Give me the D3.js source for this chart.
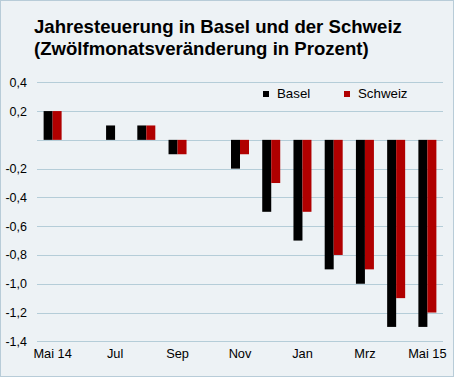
<!DOCTYPE html>
<html><head><meta charset="utf-8">
<script src="https://cdn.jsdelivr.net/npm/d3@7"></script>
<style>body{margin:0;background:#fff}svg{display:block}</style>
</head><body>
<svg id="c" width="454" height="378"></svg>
<script>
const months = ["Mai 14","Jun","Jul","Aug","Sep","Okt","Nov","Dez","Jan","Feb","Mrz","Apr","Mai 15"];
const basel   = [0.2, 0, 0.1, 0.1, -0.1, 0, -0.2, -0.5, -0.7, -0.9, -1.0, -1.3, -1.3];
const schweiz = [0.2, 0, 0, 0.1, -0.1, 0, -0.1, -0.3, -0.5, -0.8, -0.9, -1.1, -1.2];
const xTickLabels = ["Mai 14","Jul","Sep","Nov","Jan","Mrz","Mai 15"];
const yTicks = [0.4, 0.2, 0, -0.2, -0.4, -0.6, -0.8, -1.0, -1.2, -1.4];
const seriesNames = ["Basel","Schweiz"];
const colors = ["#000000","#b00000"];
const titleLines = ["Jahresteuerung in Basel und der Schweiz","(Zwölfmonatsveränderung in Prozent)"];

const svg = d3.select("#c");
svg.append("rect").attr("x",0.5).attr("y",0.5).attr("width",453).attr("height",376)
  .attr("fill","#edf2f5").attr("stroke","#b8ccd8");

const font = "Liberation Sans, Arial, sans-serif";
svg.selectAll("text.title").data(titleLines).join("text")
  .attr("x",34).attr("y",(d,i)=>33+i*22)
  .attr("font-family",font).attr("font-weight","bold").attr("font-size",18.6)
  .attr("fill","#000").text(d=>d);

const x = d3.scaleBand().domain(months).range([37,443]);
const y = d3.scaleLinear().domain([-1.4,0.4]).range([341.3,82.3]);

const grid = svg.append("g");
grid.selectAll("line").data(yTicks).join("line")
  .attr("x1",37).attr("x2",443).attr("y1",d=>Math.round(y(d))+0.5).attr("y2",d=>Math.round(y(d))+0.5)
  .attr("stroke","#b5cdd8").attr("stroke-width",1);

const yAxis = d3.axisLeft(y).tickValues(yTicks).tickSize(0)
  .tickFormat(d => d===0 ? "" : d3.format(".1f")(d).replace(".",",").replace("−","-"));
svg.append("g").attr("transform","translate(27,0)").call(yAxis)
  .call(g=>g.select(".domain").remove())
  .call(g=>g.selectAll("text").attr("font-family",font).attr("font-size",12.5).attr("fill","#000").attr("x",0));

const bw = 9;
const series = [basel, schweiz];
series.forEach((vals,si)=>{
  svg.append("g").selectAll("rect").data(vals.map((v,i)=>({v,m:months[i]}))).join("rect")
    .attr("x",d=>x(d.m)+x.bandwidth()/2 - bw + si*bw)
    .attr("width",bw)
    .attr("y",d=>Math.min(y(d.v),y(0)))
    .attr("height",d=>Math.abs(y(d.v)-y(0)))
    .attr("fill",colors[si]);
});

const xAxis = d3.axisBottom(x).tickValues(xTickLabels).tickSize(0);
svg.append("g").attr("transform","translate(0,346)").call(xAxis)
  .call(g=>g.select(".domain").remove())
  .call(g=>g.selectAll("text").attr("font-family",font).attr("font-size",12.8).attr("fill","#000"));

const legX = [263, 344];
const leg = svg.append("g");
seriesNames.forEach((n,i)=>{
  leg.append("rect").attr("x",legX[i]).attr("y",91).attr("width",6).attr("height",6).attr("fill",colors[i]);
  leg.append("text").attr("x",legX[i]+14).attr("y",98).attr("font-family",font).attr("font-size",13.3)
    .attr("fill","#000").text(n);
});
</script>
</body></html>
